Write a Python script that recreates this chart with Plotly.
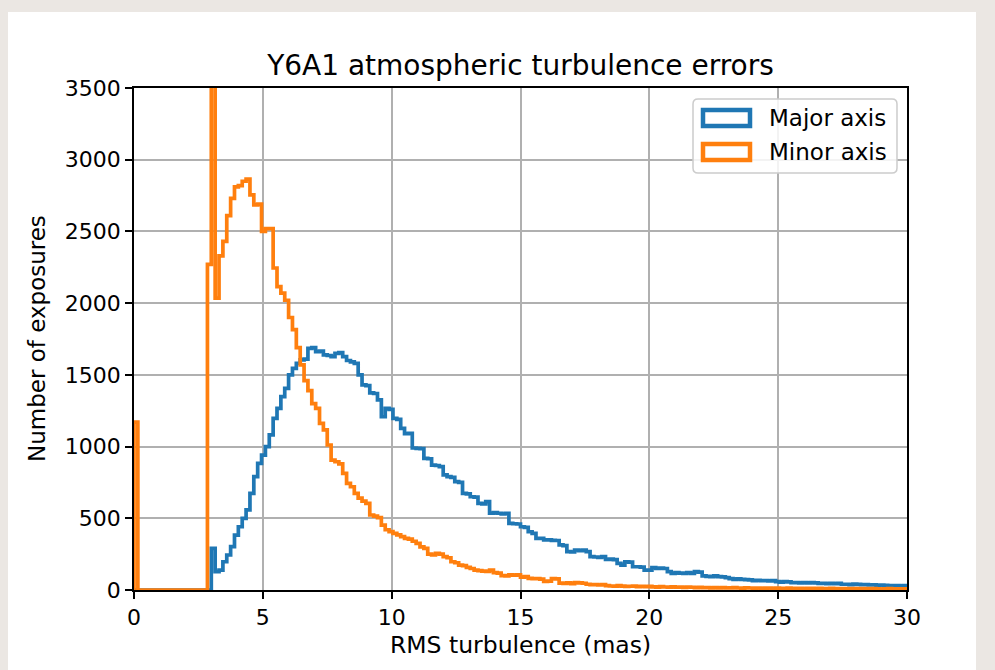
import numpy as np
import plotly.graph_objects as go

# ---------------- data ----------------
bin_width = 0.15
n_bins = 200

minor_counts = (
    [1170] + [0] * 18 +
    [2270, 4200, 2035, 2330, 2430, 2610, 2730, 2810, 2820, 2850, 2865,
     2755, 2685, 2690, 2500, 2520, 2520, 2245, 2115, 2070, 2020,
     1900, 1815, 1690, 1570, 1460, 1390, 1300, 1267, 1162, 1116,
     1011, 906, 894, 880, 813, 744, 720, 674, 640, 620,
     604, 523, 515, 505, 453, 420, 407, 395, 385, 372,
     360, 355, 340, 325, 300, 290, 250, 244, 256, 250,
     232, 225, 197, 190, 174, 170, 158, 150, 139, 135,
     132, 130, 139, 121, 118, 100, 98, 105, 103, 105,
     90, 93, 81, 79, 80, 76, 60, 62, 80, 78,
     48, 46, 50, 45, 51, 50, 47, 40, 37, 38,
     35, 37, 30, 28, 26, 30, 27, 25, 26, 27,
     24, 26, 23, 25, 22, 20, 23, 21, 20, 22,
     19, 20, 18, 21, 19, 17, 18, 16, 17, 15,
     16, 15, 17, 14, 15, 16, 14, 13, 15, 14,
     13, 14, 12, 13, 14, 12, 13, 11, 12, 13,
     12, 11, 12, 10, 11, 12, 10, 11, 10, 9,
     11, 10, 9, 10, 9, 8, 10, 9, 8, 9,
     8, 9, 8, 7, 8, 9, 7, 8, 7, 8]
)

major_counts = (
    [0] * 20 +
    [290, 128, 139, 197, 244, 302, 383, 441, 500, 558,
     674, 790, 883, 941, 999, 1081, 1197, 1267, 1348, 1406,
     1500, 1545, 1580, 1604, 1610, 1685, 1690, 1662, 1665, 1640,
     1635, 1627, 1650, 1655, 1627, 1600, 1590, 1580, 1500, 1430,
     1425, 1375, 1370, 1325, 1208, 1267, 1260, 1197, 1190, 1127,
     1090, 1092, 990, 988, 985, 918, 915, 871, 868, 860,
     802, 790, 785, 755, 750, 674, 670, 650, 648, 604,
     600, 616, 535, 540, 535, 530, 535, 465, 462, 460,
     441, 436, 406, 395, 360, 360, 349, 350, 346, 345,
     314, 310, 267, 265, 279, 275, 278, 267, 232, 230,
     228, 232, 214, 215, 212, 186, 174, 197, 195, 162,
     162, 160, 139, 139, 156, 151, 153, 150, 128, 116,
     121, 118, 116, 121, 116, 128, 125, 98, 95, 93,
     98, 93, 92, 86, 80, 74, 78, 74, 72, 70,
     65, 68, 65, 66, 63, 65, 58, 55, 58, 56,
     51, 52, 50, 51, 50, 52, 49, 46, 47, 45,
     46, 44, 46, 40, 40, 38, 41, 39, 37, 38,
     35, 36, 34, 35, 33, 30, 31, 30, 29, 30]
)

series_names = ["Major axis", "Minor axis"]
series_colors = ["#1f77b4", "#ff7f0e"]
x_ticks = [0, 5, 10, 15, 20, 25, 30]
y_ticks = [0, 500, 1000, 1500, 2000, 2500, 3000, 3500]

title_text = "Y6A1 atmospheric turbulence errors"
x_label = "RMS turbulence (mas)"
y_label = "Number of exposures"

# ---------------- figure ----------------
W, H = 995, 670
L, R, T, B = 134, 88, 88, 80
pw, ph = W - L - R, H - T - B
FONT = "DejaVu Sans"

edges = np.arange(n_bins + 1) * bin_width


def step_xy(counts):
    xs = [edges[0]] + list(edges)
    ys = [0] + list(counts) + [0]
    return xs, ys


fig = go.Figure()
for name, counts, col in zip(series_names, [major_counts, minor_counts], series_colors):
    xs, ys = step_xy(counts)
    fig.add_trace(go.Scatter(x=xs, y=ys, mode="lines", name=name,
                             line=dict(color=col, width=3.7, shape="hv"),
                             showlegend=False, hoverinfo="skip"))


def px_x(p):
    return (p - L) / pw


def px_y(p):
    return (T + ph - p) / ph


shapes = []
# white card behind everything
shapes.append(dict(type="rect", xref="paper", yref="paper", layer="below",
                   x0=px_x(8), x1=px_x(976), y0=px_y(672), y1=px_y(12),
                   fillcolor="white", line=dict(width=0)))

# legend box (rounded)
bx0, bx1, by0, by1, rr = 693, 897, 99, 173, 5
def P(x, y):
    return f"{px_x(x):.5f},{px_y(y):.5f}"
path = (f"M {P(bx0+rr, by0)} L {P(bx1-rr, by0)} Q {P(bx1, by0)} {P(bx1, by0+rr)} "
        f"L {P(bx1, by1-rr)} Q {P(bx1, by1)} {P(bx1-rr, by1)} "
        f"L {P(bx0+rr, by1)} Q {P(bx0, by1)} {P(bx0, by1-rr)} "
        f"L {P(bx0, by0+rr)} Q {P(bx0, by0)} {P(bx0+rr, by0)} Z")
shapes.append(dict(type="path", xref="paper", yref="paper", path=path,
                   fillcolor="rgba(255,255,255,0.85)", line=dict(color="#cccccc", width=1.5)))

annotations = []
leg_rows = [118, 152]
for name, col, cy in zip(series_names, series_colors, leg_rows):
    shapes.append(dict(type="rect", xref="paper", yref="paper",
                       x0=px_x(703), x1=px_x(750), y0=px_y(cy + 8), y1=px_y(cy - 8),
                       fillcolor="rgba(0,0,0,0)", line=dict(color=col, width=4.5)))
    annotations.append(dict(text=name, xref="paper", yref="paper", x=px_x(767), y=px_y(cy),
                            xanchor="left", yanchor="middle", showarrow=False,
                            font=dict(family=FONT, size=23, color="black")))

annotations.append(dict(text=x_label, xref="paper", yref="paper", x=0.5, y=px_y(629),
                        xanchor="center", yanchor="top", showarrow=False,
                        font=dict(family=FONT, size=23.5, color="black")))
annotations.append(dict(text=y_label, xref="paper", yref="paper", x=px_x(37), y=0.5,
                        xanchor="center", yanchor="middle", showarrow=False, textangle=-90,
                        font=dict(family=FONT, size=23, color="black")))

axis_common = dict(showline=True, linecolor="black", linewidth=1.7, mirror=True,
                   ticks="outside", ticklen=7, tickwidth=1.7, tickcolor="black",
                   showgrid=True, gridcolor="#b0b0b0", gridwidth=1.6, zeroline=False,
                   tickfont=dict(family=FONT, size=22, color="black"))

fig.update_layout(
    width=W, height=H,
    margin=dict(l=L, r=R, t=T, b=B),
    paper_bgcolor="#ebe7e3",
    plot_bgcolor="white",
    title=dict(text=title_text, x=0.5, xref="paper", xanchor="center",
               y=1 - 65 / H, yref="container", yanchor="middle",
               font=dict(family=FONT, size=28, color="black")),
    xaxis=dict(range=[0, 30], tickvals=x_ticks, ticktext=[str(v) for v in x_ticks], **axis_common),
    yaxis=dict(range=[0, 3500], tickvals=y_ticks, ticktext=[str(v) for v in y_ticks], **axis_common),
    shapes=shapes,
    annotations=annotations,
    showlegend=False,
)

fig.write_html("out.html")
